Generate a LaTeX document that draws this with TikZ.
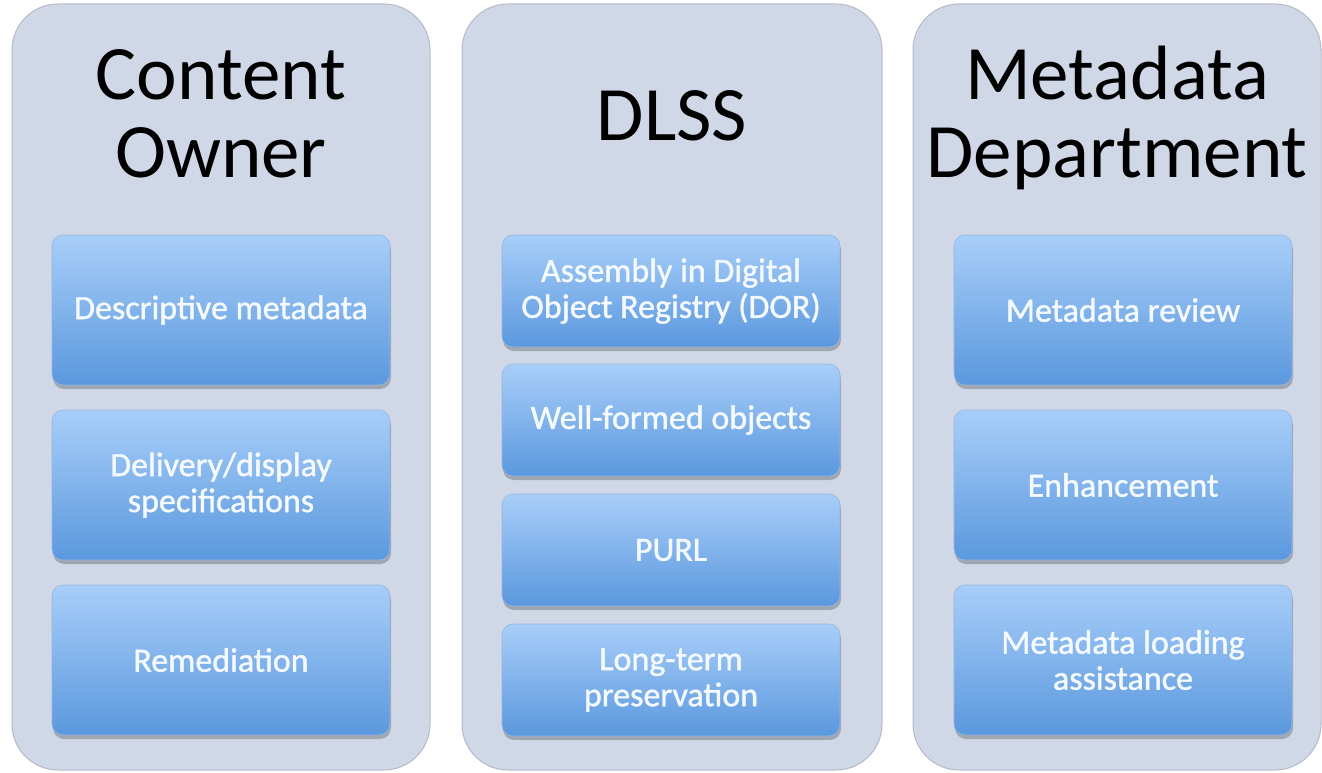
\documentclass[tikz,border=0pt]{standalone}
\usepackage{fontspec}
\setmainfont{Carlito}
\newfontfamily\boxfont[FakeBold=1.2]{Carlito}
\usetikzlibrary{shadows}
\definecolor{panelfill}{HTML}{D0D8E8}
\definecolor{paneldraw}{HTML}{B4BAC6}
\definecolor{boxtop}{HTML}{A8CEF9}
\definecolor{boxbot}{HTML}{5B98DE}
\definecolor{boxedge}{HTML}{4F84C4}
\definecolor{boxtext}{HTML}{F4FAFF}
\tikzset{
  panel/.style={draw=paneldraw, line width=1pt, fill=panelfill, rounded corners=46pt, inner sep=0pt},
  title/.style={text=black, align=center, font=\fontsize{77}{77}\selectfont, inner sep=0pt},
  item/.style={rounded corners=11pt, top color=boxtop, bottom color=boxbot, draw=boxedge!60, line width=0.6pt,
    text=boxtext, align=center, font=\boxfont\fontsize{34}{36}\selectfont, inner sep=0pt,
    drop shadow={shadow xshift=1pt, shadow yshift=-4pt, opacity=0.35, fill=black!70}},
}
\begin{document}
\begin{tikzpicture}[x=1pt,y=-1pt]
\useasboundingbox (0,0) rectangle (1322,773);
\fill[white] (0,0) rectangle (1322,773);
% panels
\node[panel, minimum width=418pt, minimum height=766pt] (p1) at (221,387) {};
\node[panel, minimum width=420pt, minimum height=766pt] (p2) at (672,387) {};
\node[panel, minimum width=408pt, minimum height=766pt] (p3) at (1117,387) {};
% titles
\node[title, anchor=base] (t1a) at (221,100) {Content};
\node[title, anchor=base] (t1b) at (221,177) {Owner};
\node[title, anchor=base] (t2) at (672,140) {DLSS};
\node[title, anchor=base] (t3a) at (1117,100) {Metadata};
\node[title, anchor=base] (t3b) at (1117,177) {Department};
% column 1
\node[item, minimum width=338pt, minimum height=150pt] (a1) at (221,310) {Descriptive metadata};
\node[item, minimum width=338pt, minimum height=150pt] (a2) at (221,485) {Delivery/display\\specifications};
\node[item, minimum width=338pt, minimum height=150pt] (a3) at (221,660) {Remediation};
% column 2
\node[item, minimum width=338pt, minimum height=112pt] (b1) at (671,291) {Assembly in Digital\\Object Registry (DOR)};
\node[item, minimum width=338pt, minimum height=112pt] (b2) at (671,420) {Well-formed objects};
\node[item, minimum width=338pt, minimum height=112pt] (b3) at (671,550) {PURL};
\node[item, minimum width=338pt, minimum height=112pt] (b4) at (671,680) {Long-term\\preservation};
% column 3
\node[item, minimum width=338pt, minimum height=150pt] (c1) at (1123,310) {Metadata review};
\node[item, minimum width=338pt, minimum height=150pt] (c2) at (1123,485) {Enhancement};
\node[item, minimum width=338pt, minimum height=150pt] (c3) at (1123,660) {Metadata loading\\assistance};
\end{tikzpicture}
\end{document}
